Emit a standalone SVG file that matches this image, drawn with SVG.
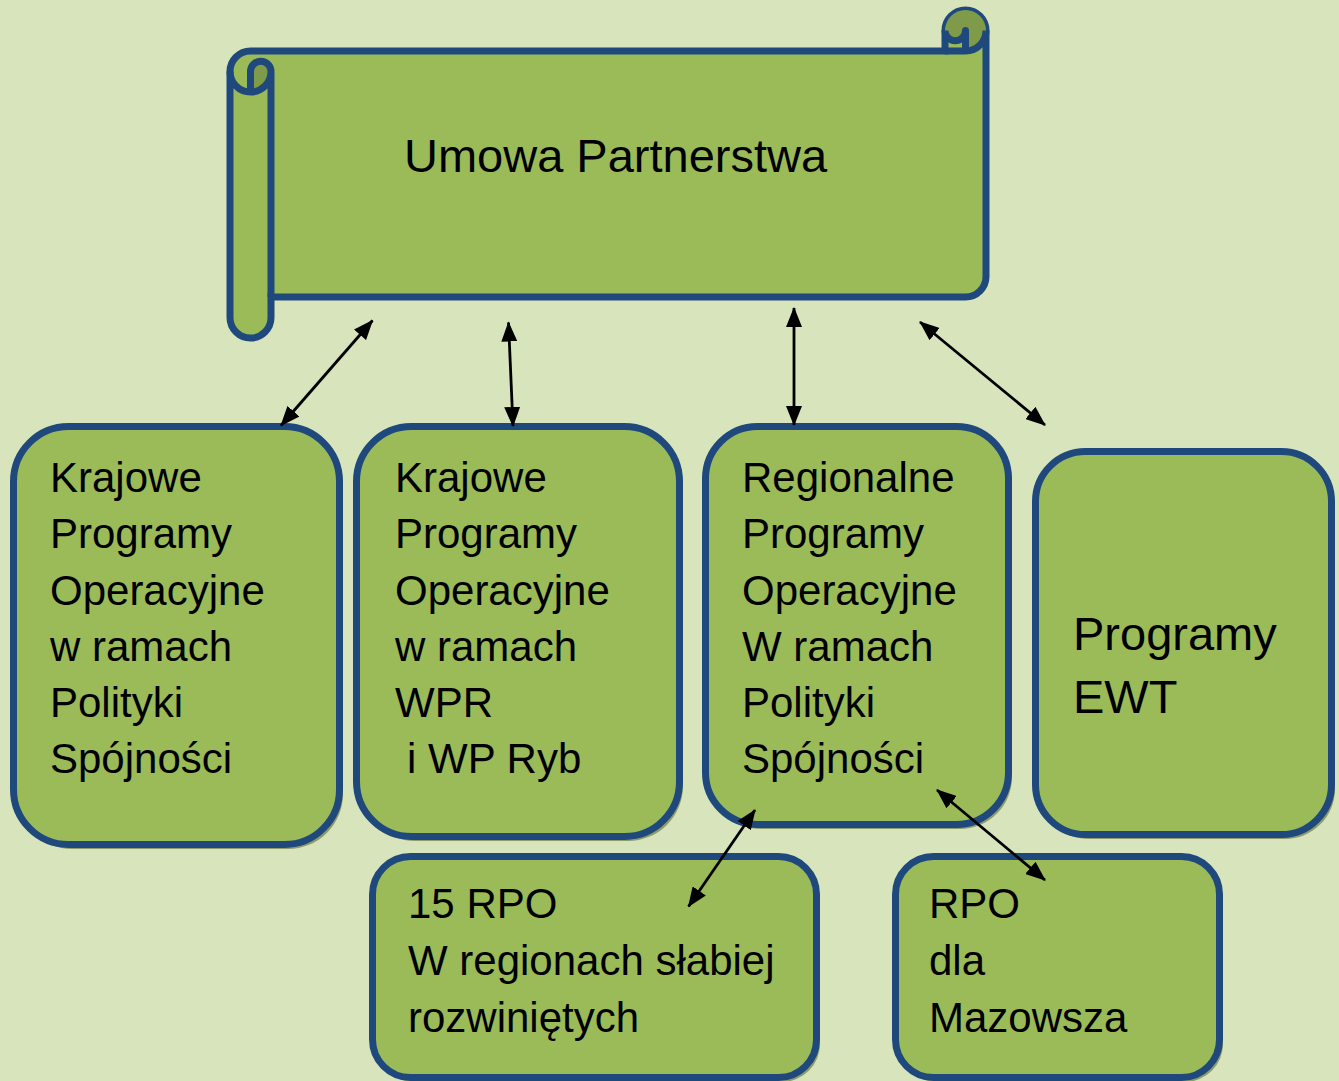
<svg xmlns="http://www.w3.org/2000/svg" width="1339" height="1081" viewBox="0 0 1339 1081">
<defs>
<style>
.bg{fill:#D8E4BC}
.box{fill:#9BBB59;stroke:#1F497D;stroke-width:7}
.shadow{fill:#8E9C6C}
.dark{fill:#7F9A48;stroke:none}
.line{stroke:#1F497D;stroke-width:7;fill:none;stroke-linejoin:round}
.t{font-family:"Liberation Sans",Arial,sans-serif;font-size:42px;fill:#000}
.conn{stroke:#000;stroke-width:2.8;fill:none;marker-start:url(#ah);marker-end:url(#ah)}
</style>
<marker id="ah" viewBox="0 0 20 16" refX="19" refY="8" markerWidth="20" markerHeight="16" markerUnits="userSpaceOnUse" orient="auto-start-reverse">
<path d="M0,0 L20,8 L0,16 Z" fill="#000"/>
</marker>
</defs>
<rect class="bg" x="0" y="0" width="1339" height="1081"/>

<g id="scroll">
<path class="box" d="M230,71.5 A20.5,20.5 0 0 1 250.5,51 L945,51 L945,30.5 A20.5,20.5 0 0 1 986,30.5 L986,276.5 A20.5,20.5 0 0 1 965.5,297 L271,297 L271,317.5 A20.5,20.5 0 0 1 230,317.5 Z"/>
<path class="dark" d="M250.5,92 A20.5,20.5 0 0 0 271,71.5 A10.25,10.25 0 0 0 250.5,71.5 Z"/>
<path class="dark" d="M965.5,51 A20.5,20.5 0 1 0 945,30.5 A10.25,10.25 0 0 0 965.5,30.5 Z"/>
<path class="line" d="M945,51 L965.5,51 A20.5,20.5 0 0 0 986,30.5 M965.5,51 L965.5,30.5 A10.25,10.25 0 0 1 945,30.5 M250.5,92 L250.5,71.5 A10.25,10.25 0 0 1 271,71.5 A20.5,20.5 0 0 1 230,71.5 M271,71.5 L271,297"/>
<text class="t" x="404" y="172" style="font-size:47px">Umowa Partnerstwa</text>
</g>

<g id="kpo-ps">
<rect class="shadow" x="17" y="431" width="326" height="418" rx="55"/>
<rect class="box" x="13.5" y="426.5" width="326" height="418" rx="55"/>
<text class="t" x="50"><tspan x="50" y="492">Krajowe</tspan><tspan x="50" y="548">Programy</tspan><tspan x="50" y="604.5">Operacyjne</tspan><tspan x="50" y="661">w ramach</tspan><tspan x="50" y="717">Polityki</tspan><tspan x="50" y="773">Spójności</tspan></text>
</g>

<g id="kpo-wpr">
<rect class="shadow" x="360" y="431" width="323" height="410" rx="55"/>
<rect class="box" x="356.5" y="426.5" width="323" height="410" rx="55"/>
<text class="t"><tspan x="395" y="492">Krajowe</tspan><tspan x="395" y="548">Programy</tspan><tspan x="395" y="604.5">Operacyjne</tspan><tspan x="395" y="661">w ramach</tspan><tspan x="395" y="717">WPR</tspan><tspan x="407" y="773">i WP Ryb</tspan></text>
</g>

<g id="rpo">
<rect class="shadow" x="709" y="431" width="303" height="398" rx="52"/>
<rect class="box" x="705.5" y="426.5" width="303" height="398" rx="52"/>
<text class="t"><tspan x="742" y="492">Regionalne</tspan><tspan x="742" y="548">Programy</tspan><tspan x="742" y="604.5">Operacyjne</tspan><tspan x="742" y="661">W ramach</tspan><tspan x="742" y="717">Polityki</tspan><tspan x="742" y="773">Spójności</tspan></text>
</g>

<g id="ewt">
<rect class="shadow" x="1039" y="456" width="296" height="383" rx="50"/>
<rect class="box" x="1035.5" y="451.5" width="296" height="383" rx="50"/>
<text class="t" style="font-size:47px"><tspan x="1073" y="650">Programy</tspan><tspan x="1073" y="713">EWT</tspan></text>
</g>

<g id="rpo15">
<rect class="shadow" x="376" y="861" width="444" height="221" rx="38"/>
<rect class="box" x="372.5" y="856.5" width="444" height="221" rx="38"/>
<text class="t"><tspan x="408" y="918">15 RPO</tspan><tspan x="408" y="975">W regionach słabiej</tspan><tspan x="408" y="1032">rozwiniętych</tspan></text>
</g>

<g id="rpo-maz">
<rect class="shadow" x="899" y="861" width="324" height="221" rx="38"/>
<rect class="box" x="895.5" y="856.5" width="324" height="221" rx="38"/>
<text class="t"><tspan x="929" y="918">RPO</tspan><tspan x="929" y="975">dla</tspan><tspan x="929" y="1032">Mazowsza</tspan></text>
</g>

<g id="connectors">
<line class="conn" x1="372.5" y1="320.5" x2="281" y2="425.5"/>
<line class="conn" x1="508.5" y1="322.5" x2="513" y2="426"/>
<line class="conn" x1="794" y1="308" x2="794" y2="425"/>
<line class="conn" x1="920" y1="322" x2="1045" y2="425"/>
<line class="conn" x1="755" y1="810" x2="688.5" y2="906.5"/>
<line class="conn" x1="937" y1="790" x2="1045" y2="880"/>
</g>
</svg>
